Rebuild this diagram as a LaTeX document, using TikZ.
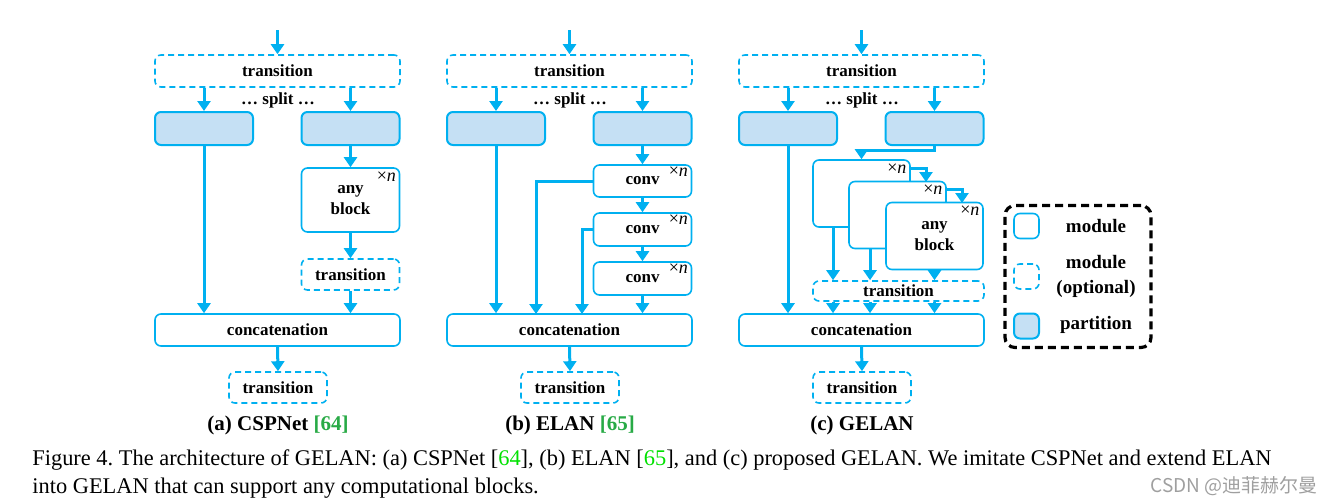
\documentclass[tikz,border=0pt]{standalone}
\usepackage{fontspec}
\setmainfont{Liberation Serif}
\newfontfamily\wmfont{Noto Sans CJK SC}
\usetikzlibrary{arrows.meta}

\definecolor{lineblue}{RGB}{0,176,240}
\definecolor{partblue}{RGB}{197,224,244}
\definecolor{refgreen}{RGB}{40,170,70}
\definecolor{citegreen}{RGB}{0,225,0}
\newcommand\lblfont{\bfseries\fontsize{8.5}{10.5}\selectfont}

\begin{document}
\begin{tikzpicture}
[
x=0.5pt, y=-0.5pt,
module/.style={draw=lineblue, line width=0.8pt, rounded corners=3pt, fill=white, inner sep=0pt, font=\lblfont, align=center},
optional/.style={module, dash pattern=on 3pt off 2pt},
partition/.style={module, line width=1pt, fill=partblue},
flow/.style={draw=lineblue, line width=1.5pt, -{Triangle[width=6.5pt,length=5pt]}}
]
\tikzset{rep/.style={inner sep=0.5pt, font=\fontsize{9}{9}\selectfont, anchor=north east},
         title/.style={font=\bfseries\fontsize{10.5}{12}\selectfont}}
\useasboundingbox (0,0) rectangle (1336,503);

% (a) CSPNet
\coordinate (a-in) at (277.5,30);
\node[optional, minimum width=122.5pt, minimum height=16pt] (a-tr1) at (277.5,71) {transition};
\node[font=\lblfont] (a-split) at (278,100) {… split …};
\node[partition, minimum width=49pt, minimum height=16.5pt] (a-pl) at (204,128.5) {};
\node[partition, minimum width=49pt, minimum height=16.5pt] (a-pr) at (350.5,128.5) {};
\node[module, minimum width=49pt, minimum height=32pt] (a-blk) at (350.5,200) {any\\block};
\node[rep] (a-rep) at ([xshift=-1.5pt,yshift=-1.5pt]a-blk.north east) {×\textit{n}};
\node[optional, minimum width=49pt, minimum height=15.5pt] (a-tr2) at (350.5,274.5) {transition};
\node[module, minimum width=122.5pt, minimum height=16pt] (a-cat) at (277.5,330) {concatenation};
\node[optional, minimum width=49pt, minimum height=15.5pt] (a-out) at (278,387.5) {transition};
\node[title] (a-title) at (278,425) {(a) CSPNet \textcolor{refgreen}{[64]}};

\draw[flow] (a-in) -- (a-tr1.north);
\draw[flow] (a-tr1.south -| a-pl) -- (a-pl.north);
\draw[flow] (a-tr1.south -| a-pr) -- (a-pr.north);
\draw[flow] (a-pl.south) -- (a-pl.south |- a-cat.north);
\draw[flow] (a-pr.south) -- (a-blk.north);
\draw[flow] (a-blk.south) -- (a-tr2.north);
\draw[flow] (a-tr2.south) -- (a-tr2.south |- a-cat.north);
\draw[flow] (a-cat.south) -- (a-out.north);

% (b) ELAN
\coordinate (b-in) at (569.5,30);
\node[optional, minimum width=122.5pt, minimum height=16pt] (b-tr1) at (569.5,71) {transition};
\node[font=\lblfont] (b-split) at (570,100) {… split …};
\node[partition, minimum width=49pt, minimum height=16.5pt] (b-pl) at (496,128.5) {};
\node[partition, minimum width=49pt, minimum height=16.5pt] (b-pr) at (642.5,128.5) {};
\node[module, minimum width=49pt, minimum height=16pt] (b-c1) at (642.5,181) {conv};
\node[module, minimum width=49pt, minimum height=16.5pt] (b-c2) at (642.5,229.5) {conv};
\node[module, minimum width=49pt, minimum height=16.5pt] (b-c3) at (642.5,278.5) {conv};
\foreach \c in {c1,c2,c3}
  \node[rep] (b-rep-\c) at ([xshift=-1.5pt,yshift=-0.5pt]b-\c.north east) {×\textit{n}};
\node[module, minimum width=122.5pt, minimum height=16pt] (b-cat) at (569.5,330) {concatenation};
\node[optional, minimum width=49pt, minimum height=15.5pt] (b-out) at (570,387.5) {transition};
\node[title] (b-title) at (570,425) {(b) ELAN \textcolor{refgreen}{[65]}};
\coordinate (b-k1) at (536,314);
\coordinate (b-k2) at (582,314);

\draw[flow] (b-in) -- (b-tr1.north);
\draw[flow] (b-tr1.south -| b-pl) -- (b-pl.north);
\draw[flow] (b-tr1.south -| b-pr) -- (b-pr.north);
\draw[flow] (b-pl.south) -- (b-pl.south |- b-cat.north);
\draw[flow] (b-pr.south) -- (b-c1.north);
\draw[flow] (b-c1.south) -- (b-c2.north);
\draw[flow] (b-c2.south) -- (b-c3.north);
\draw[flow] (b-c3.south) -- (b-c3.south |- b-cat.north);
\draw[flow] (b-c1.west) -| (b-k1);
\draw[flow] (b-c2.west) -| (b-k2);
\draw[flow] (b-cat.south) -- (b-out.north);

% (c) GELAN
\coordinate (c-in) at (861.5,30);
\node[optional, minimum width=122.5pt, minimum height=16pt] (c-tr1) at (861.5,71) {transition};
\node[font=\lblfont] (c-split) at (862,100) {… split …};
\node[partition, minimum width=49pt, minimum height=16.5pt] (c-pl) at (788,128.5) {};
\node[partition, minimum width=49pt, minimum height=16.5pt] (c-pr) at (934.5,128.5) {};
\node[module, minimum width=48.5pt, minimum height=33.5pt] (c-b1) at (861.5,193.5) {};
\node[module, minimum width=48.5pt, minimum height=33.5pt] (c-b2) at (897.5,215) {};
\node[module, minimum width=48.5pt, minimum height=33.5pt] (c-b3) at (934.5,236) {any\\block};
\foreach \b in {b1,b2,b3}
  \node[rep] (c-rep-\b) at ([xshift=-1.5pt,yshift=-1.5pt]c-\b.north east) {×\textit{n}};
\node[optional, minimum width=85.5pt, minimum height=10pt] (c-tr2) at (898.5,291) {transition};
\node[module, minimum width=122.5pt, minimum height=16pt] (c-cat) at (861.5,330) {concatenation};
\node[optional, minimum width=49pt, minimum height=15.5pt] (c-out) at (862,387.5) {transition};
\node[title] (c-title) at (862,425) {(c) GELAN};
\coordinate (c-k0) at (934.5,150);
\coordinate (c-k1) at (926,182);
\coordinate (c-k2) at (962,203);
\coordinate (c-x1) at (833,0);
\coordinate (c-x2) at (870,0);

\draw[flow] (c-in) -- (c-tr1.north);
\draw[flow] (c-tr1.south -| c-pl) -- (c-pl.north);
\draw[flow] (c-tr1.south -| c-pr) -- (c-pr.north);
\draw[flow] (c-pl.south) -- (c-pl.south |- c-cat.north);
\draw[flow] (c-pr.south) -- (c-k0) -| (c-b1.north);
\draw[flow] ([yshift=-4.5pt]c-b1.north east) -| (c-k1);
\draw[flow] ([yshift=-4.5pt]c-b2.north east) -| (c-k2);
\draw[flow] (c-b1.south -| c-x1) -- (c-tr2.north -| c-x1);
\draw[flow] (c-b2.south -| c-x2) -- (c-tr2.north -| c-x2);
\draw[flow] (c-b3.south) -- (c-tr2.north -| c-b3);
\draw[flow] (c-tr2.south -| c-x1) -- (c-cat.north -| c-x1);
\draw[flow] (c-tr2.south -| c-x2) -- (c-cat.north -| c-x2);
\draw[flow] (c-tr2.south -| c-b3) -- (c-cat.north -| c-b3);
\draw[flow] (c-cat.south) -- (c-out.north);

% legend
\node[draw=black, line width=1.6pt, dash pattern=on 4pt off 2.5pt, rounded corners=5pt,
      minimum width=73pt, minimum height=71pt, inner sep=0pt] (leg) at (1078,276.5) {};
\node[module, minimum width=12.5pt, minimum height=12.5pt] (leg-mod) at (1026.5,226) {};
\node[optional, minimum width=12.5pt, minimum height=12.5pt] (leg-opt) at (1026.5,276.5) {};
\node[partition, minimum width=12.5pt, minimum height=12.5pt] (leg-part) at (1026.5,326) {};
\node[font=\bfseries\fontsize{9.5}{12.5}\selectfont, align=center] (leg-t1) at (1096,226) {module};
\node[font=\bfseries\fontsize{9.5}{12.5}\selectfont, align=center] (leg-t2) at (1096,276.5) {module\\(optional)};
\node[font=\bfseries\fontsize{9.5}{12.5}\selectfont, align=center] (leg-t3) at (1096,325) {partition};

% caption
\node[anchor=base west, inner sep=0pt, font=\fontsize{11.2}{14}\selectfont] (cap1) at (32,465)
  {Figure 4.\ The architecture of GELAN: (a) CSPNet [\textcolor{citegreen}{64}], (b) ELAN [\textcolor{citegreen}{65}], and (c) proposed GELAN. We imitate CSPNet and extend ELAN};
\node[anchor=base west, inner sep=0pt, font=\fontsize{11.2}{14}\selectfont] (cap2) at (32,493)
  {into GELAN that can support any computational blocks.};
\node[font=\wmfont\fontsize{9.5}{11}\selectfont, text=gray!75] (wm) at (1234,486) {CSDN @迪菲赫尔曼};
\end{tikzpicture}
\end{document}
